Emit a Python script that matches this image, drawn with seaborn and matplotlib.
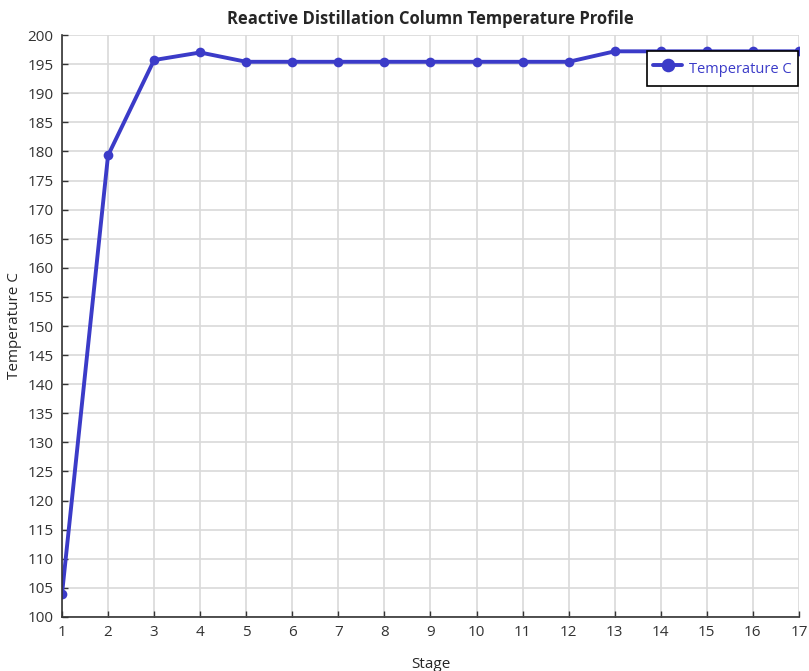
import matplotlib
matplotlib.use("Agg")
import matplotlib.pyplot as plt
import seaborn as sns
import pandas as pd

stages = list(range(1, 18))
temperature = [103.9, 179.3, 195.7, 197.0, 195.4, 195.4, 195.4, 195.4, 195.4,
               195.4, 195.4, 195.4, 197.2, 197.2, 197.2, 197.2, 197.2]
y_ticks = list(range(100, 201, 5))

df = pd.DataFrame({"Stage": stages, "Temperature C": temperature})

sns.set_style("whitegrid")
plt.rcParams['font.family'] = ['Open Sans', 'DejaVu Sans']

fig = plt.figure(figsize=(8.09, 6.71), dpi=100)
ax = fig.add_axes([0.0766, 0.0805, 0.911, 0.8673])
color = "#3b3bc8"
sns.lineplot(data=df, x="Stage", y="Temperature C", ax=ax, color=color,
             marker="o", markersize=7, linewidth=2.8, markeredgewidth=0,
             label="Temperature C")

ax.set_xlim(1, 17)
ax.set_ylim(100, 200)
ax.set_xticks(stages)
ax.set_yticks(y_ticks)
ax.grid(True, color="#d9d9d9", linewidth=1.2)
for s in ["top", "right"]:
    ax.spines[s].set_visible(False)
for s in ["left", "bottom"]:
    ax.spines[s].set_color("#333333")
    ax.spines[s].set_linewidth(1.2)
ax.tick_params(axis="both", direction="in", length=4, width=1, colors="#333333",
               labelsize=11, left=True, bottom=True, pad=6)
ax.set_xlabel("Stage", fontsize=11, labelpad=12)
ax.set_ylabel("Temperature C", fontsize=11, labelpad=4)
ax.set_title("Reactive Distillation Column Temperature Profile", fontsize=12,
             fontweight="bold", pad=8)
leg = ax.legend(loc="upper right", bbox_to_anchor=(0.999, 0.9725), frameon=True,
                fancybox=False, edgecolor="black", fontsize=10.5, handlelength=2.0,
                handletextpad=0.45, borderpad=0.45, handleheight=1.9,
                borderaxespad=0, markerscale=1.4, framealpha=1)
leg.get_frame().set_linewidth(1.2)
for t in leg.get_texts():
    t.set_color(color)
fig.savefig("out.png", dpi=100)
